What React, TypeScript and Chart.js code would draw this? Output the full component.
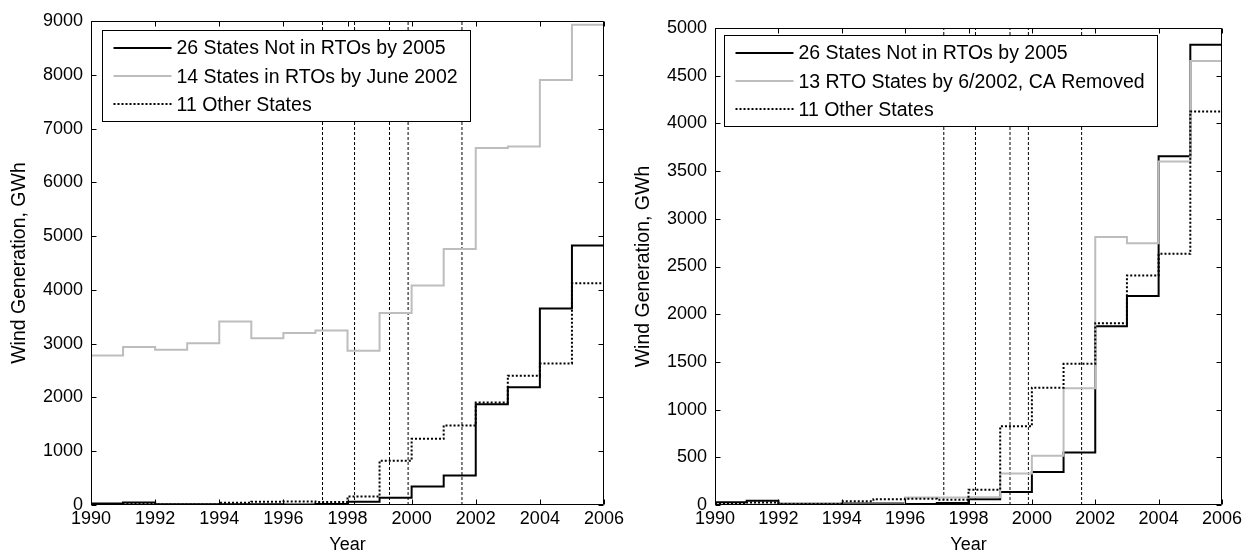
import { useEffect, useRef } from "react";
import { Chart, registerables } from "chart.js";

Chart.register(...registerables);

// Annual wind generation (GWh), one value per year, held until the next year.
const YEARS = [1990, 1991, 1992, 1993, 1994, 1995, 1996, 1997, 1998, 1999, 2000, 2001, 2002, 2003, 2004, 2005];
const END_YEAR = 2006;

const NOT_IN_RTO = [30, 45, 12, 12, 15, 15, 10, 20, 60, 135, 345, 550, 1875, 2190, 3655, 4825];
const RTO_14_BY_2002 = [2780, 2940, 2885, 3010, 3410, 3100, 3200, 3245, 2870, 3570, 4080, 4760, 6640, 6665, 7905, 8930];
const RTO_13_NO_CA = [5, 5, 5, 5, 5, 5, 78, 78, 82, 330, 515, 1225, 2810, 2745, 3600, 4655];
const OTHER_STATES = [15, 25, 10, 10, 40, 60, 65, 55, 160, 825, 1230, 1480, 1905, 2405, 2633, 4125];

// Market start dates, shown as dashed vertical markers.
const RTO_START_DATES = [1997.22, 1998.22, 1999.31, 1999.89, 2001.57];

// Tick labels
const X_TICKS = [1990, 1992, 1994, 1996, 1998, 2000, 2002, 2004, 2006];
const LEFT_Y_TICKS = [0, 1000, 2000, 3000, 4000, 5000, 6000, 7000, 8000, 9000];
const RIGHT_Y_TICKS = [0, 500, 1000, 1500, 2000, 2500, 3000, 3500, 4000, 4500, 5000];

const LABEL_NOT_IN_RTO = "26 States Not in RTOs by 2005";
const LABEL_RTO_14 = "14 States in RTOs by June 2002";
const LABEL_RTO_13 = "13 RTO States by 6/2002, CA Removed";
const LABEL_OTHER = "11 Other States";

const FONT = '"Liberation Sans", Arial, Helvetica, sans-serif';
const GRAY = "#bdbdbd";
const TICK_LEN = 5;

type Panel = {
  left: number;
  width: number;
  padTop: number;
  padRight: number;
  yAxisWidth: number;
  yTitlePad: number;
  yMax: number;
  yTicks: number[];
  rtoLabel: string;
  rtoValues: number[];
  legendDx: number;
  legendDy: number;
};

const PANELS: Panel[] = [
  {
    left: 0, width: 660, padTop: 21, padRight: 56, yAxisWidth: 91, yTitlePad: 8.3,
    yMax: 9000, yTicks: LEFT_Y_TICKS, rtoLabel: LABEL_RTO_14, rtoValues: RTO_14_BY_2002,
    legendDx: 11, legendDy: 9,
  },
  {
    left: 621, width: 622, padTop: 28, padRight: 21, yAxisWidth: 94, yTitlePad: 10.8,
    yMax: 5000, yTicks: RIGHT_Y_TICKS, rtoLabel: LABEL_RTO_13, rtoValues: RTO_13_NO_CA,
    legendDx: 9, legendDy: 7,
  },
];

function stairs(values: number[]) {
  const pts = YEARS.map((x, i) => ({ x, y: values[i] }));
  pts.push({ x: END_YEAR, y: values[values.length - 1] });
  return pts;
}

function framePlugin(panel: Panel) {
  return {
    id: "frame",
    afterDatasetsDraw(chart: any) {
      const { ctx, chartArea } = chart;
      const items = chart.data.datasets.filter((d: any) => d.label);
      ctx.save();
      ctx.font = `19.5px ${FONT}`;
      const textW = Math.max(...items.map((d: any) => ctx.measureText(d.label).width));
      const bx = Math.round(chartArea.left + panel.legendDx) + 0.5;
      const by = Math.round(chartArea.top + panel.legendDy) + 0.5;
      const bw = Math.round(74 + textW + 13);
      const bh = 91;
      ctx.fillStyle = "#fff";
      ctx.fillRect(bx, by, bw, bh);
      ctx.strokeStyle = "#000";
      ctx.lineWidth = 1;
      ctx.setLineDash([]);
      ctx.strokeRect(bx, by, bw, bh);
      items.forEach((d: any, i: number) => {
        const ry = by + 17.5 + i * 28.2;
        ctx.save();
        ctx.strokeStyle = d.borderColor;
        ctx.lineWidth = d.borderWidth;
        ctx.setLineDash(d.borderDash || []);
        ctx.beginPath();
        ctx.moveTo(bx + 11, Math.round(ry));
        ctx.lineTo(bx + 69, Math.round(ry));
        ctx.stroke();
        ctx.restore();
        ctx.fillStyle = "#000";
        ctx.textAlign = "left";
        ctx.textBaseline = "middle";
        ctx.fillText(d.label, bx + 74, ry + 1);
      });
      ctx.restore();
    },
    afterDraw(chart: any) {
      const { ctx, chartArea, scales } = chart;
      const l = Math.round(chartArea.left) + 0.5;
      const r = Math.round(chartArea.right) - 0.5;
      const t = Math.round(chartArea.top) + 0.5;
      const b = Math.round(chartArea.bottom) - 0.5;
      ctx.save();
      ctx.strokeStyle = "#000";
      ctx.lineWidth = 1;
      ctx.setLineDash([]);
      ctx.beginPath();
      ctx.rect(l, t, r - l, b - t);
      scales.x.ticks.forEach((tk: any) => {
        const px = Math.round(scales.x.getPixelForValue(tk.value)) + 0.5;
        ctx.moveTo(px, b);
        ctx.lineTo(px, b - TICK_LEN);
        ctx.moveTo(px, t);
        ctx.lineTo(px, t + TICK_LEN);
      });
      scales.y.ticks.forEach((tk: any) => {
        const py = Math.round(scales.y.getPixelForValue(tk.value)) + 0.5;
        ctx.moveTo(l, py);
        ctx.lineTo(l + TICK_LEN, py);
        ctx.moveTo(r, py);
        ctx.lineTo(r - TICK_LEN, py);
      });
      ctx.stroke();
      ctx.restore();
    },
  };
}

function WindPanel({ panel }: { panel: Panel }) {
  const ref = useRef<HTMLCanvasElement | null>(null);

  useEffect(() => {
    if (!ref.current) return;
    const markers = RTO_START_DATES.map((x) => ({
      label: "",
      data: [{ x, y: 0 }, { x, y: panel.yMax }],
      borderColor: "#000",
      borderWidth: 1,
      borderDash: [3, 2],
      pointRadius: 0,
      order: 4,
    }));
    const chart = new Chart(ref.current, {
      type: "line",
      data: {
        datasets: [
          {
            label: LABEL_NOT_IN_RTO,
            data: stairs(NOT_IN_RTO),
            borderColor: "#000",
            borderWidth: 2,
            stepped: true,
            pointRadius: 0,
            order: 3,
          },
          {
            label: panel.rtoLabel,
            data: stairs(panel.rtoValues),
            borderColor: GRAY,
            borderWidth: 2,
            stepped: true,
            pointRadius: 0,
            order: 2,
          },
          {
            label: LABEL_OTHER,
            data: stairs(OTHER_STATES),
            borderColor: "#000",
            borderWidth: 2,
            borderDash: [2, 2],
            stepped: true,
            pointRadius: 0,
            order: 1,
          },
          ...markers,
        ] as any,
      },
      options: {
        responsive: false,
        animation: false,
        devicePixelRatio: 1,
        layout: { padding: { left: 0, top: panel.padTop, right: panel.padRight, bottom: 0 } },
        plugins: { legend: { display: false }, tooltip: { enabled: false } },
        scales: {
          x: {
            type: "linear",
            min: 1990,
            max: END_YEAR,
            grid: { display: false, drawTicks: false },
            border: { display: false },
            afterBuildTicks: (s: any) => {
              s.ticks = X_TICKS.map((value) => ({ value }));
            },
            afterFit: (s: any) => {
              s.height = 49;
              s.paddingLeft = 0;
              s.paddingRight = 0;
            },
            ticks: {
              color: "#000",
              font: { family: FONT, size: 18 },
              padding: 3,
              maxRotation: 0,
              autoSkip: false,
              callback: (v: any) => String(v),
            },
            title: {
              display: true,
              text: "Year",
              color: "#000",
              font: { family: FONT, size: 18 },
              padding: { top: 0, bottom: -2 },
            },
          },
          y: {
            type: "linear",
            min: 0,
            max: panel.yMax,
            grid: { display: false, drawTicks: false },
            border: { display: false },
            afterBuildTicks: (s: any) => {
              s.ticks = panel.yTicks.map((value) => ({ value }));
            },
            afterFit: (s: any) => {
              s.width = panel.yAxisWidth;
              s.paddingTop = 0;
              s.paddingBottom = 0;
            },
            ticks: {
              color: "#000",
              font: { family: FONT, size: 18 },
              padding: 8,
              callback: (v: any) => String(v),
            },
            title: {
              display: true,
              text: "Wind Generation, GWh",
              color: "#000",
              font: { family: FONT, size: 19.5 },
              padding: { top: panel.yTitlePad, bottom: 0 },
            },
          },
        },
      },
      plugins: [framePlugin(panel)],
    });
    return () => chart.destroy();
  }, [panel]);

  return (
    <canvas
      ref={ref}
      width={panel.width}
      height={554}
      style={{ position: "absolute", left: panel.left, top: 0, width: panel.width, height: 554, display: "block" }}
    />
  );
}

export default function App() {
  return (
    <div style={{ position: "fixed", left: 0, top: 0, width: 1243, height: 554, background: "#fff" }}>
      {PANELS.map((p, i) => (
        <WindPanel key={i} panel={p} />
      ))}
    </div>
  );
}
